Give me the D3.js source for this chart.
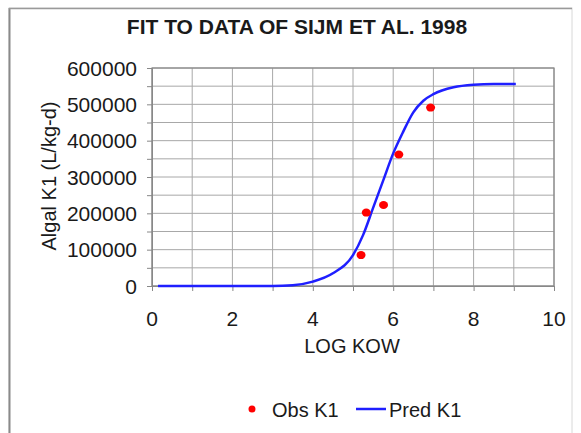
<!DOCTYPE html>
<html>
<head>
<meta charset="utf-8">
<script src="https://cdn.jsdelivr.net/npm/d3@7"></script>
<style>
  html, body { margin: 0; padding: 0; background: #fff; }
  svg { display: block; }
  text { font-family: "Liberation Sans", Arial, sans-serif; fill: #1a1a1a; }
</style>
</head>
<body>
<script>
// ---- data ----
const titleText = "FIT TO DATA OF SIJM ET AL. 1998";
const xAxisTitle = "LOG KOW";
const yAxisTitle = "Algal K1 (L/kg-d)";
const xTicks = [0, 2, 4, 6, 8, 10];
const yTicks = [0, 100000, 200000, 300000, 400000, 500000, 600000];

// observed points (Obs K1)
const obsLogKow = [5.20, 5.33, 5.76, 6.14, 6.93];
const obsK1     = [85000, 202000, 223000, 362000, 491000];

// predicted curve (Pred K1)
const predLogKow = [0.15, 1, 2, 3, 3.5, 4, 4.5, 5, 5.25, 5.5, 5.75, 6, 6.25, 6.5, 6.75, 7, 7.5, 8, 8.5, 9.05];
const predK1     = [0, 0, 0, 0, 2000, 12000, 35000, 85000, 140000, 215000, 290000, 365000, 425000, 478000, 510000, 528000, 547000, 554000, 556000, 556000];

const seriesNames = ["Obs K1", "Pred K1"];

// ---- drawing ----
const W = 581, H = 433;
const svg = d3.select("body").append("svg").attr("width", W).attr("height", H);

// outer frame
svg.append("rect").attr("x", 9).attr("y", 8).attr("width", 563).attr("height", 440)
  .attr("fill", "#fff").attr("stroke", "#d8d8d8").attr("stroke-width", 1);
svg.append("line").attr("x1", 9.5).attr("x2", 9.5).attr("y1", 8).attr("y2", H)
  .attr("stroke", "#8a8a8a").attr("stroke-width", 2);
svg.append("line").attr("x1", 9).attr("x2", 572).attr("y1", 8.5).attr("y2", 8.5)
  .attr("stroke", "#9a9a9a").attr("stroke-width", 1.5);

const plot = { left: 152, right: 554, top: 68, bottom: 286 };
const x = d3.scaleLinear().domain([0, 10]).range([plot.left, plot.right]);
const y = d3.scaleLinear().domain([0, 600000]).range([plot.bottom, plot.top]);

// gridlines
const g = svg.append("g");
g.selectAll(".vg").data(d3.range(0, 11, 1)).enter().append("line")
  .attr("x1", d => x(d)).attr("x2", d => x(d))
  .attr("y1", plot.top).attr("y2", plot.bottom)
  .attr("stroke", "#a8a8a8").attr("stroke-width", 1);
g.selectAll(".hg").data(d3.range(0, 600001, 50000)).enter().append("line")
  .attr("x1", plot.left).attr("x2", plot.right)
  .attr("y1", d => y(d)).attr("y2", d => y(d))
  .attr("stroke", "#a8a8a8").attr("stroke-width", 1);

// plot border
svg.append("rect").attr("x", plot.left).attr("y", plot.top)
  .attr("width", plot.right - plot.left).attr("height", plot.bottom - plot.top)
  .attr("fill", "none").attr("stroke", "#888").attr("stroke-width", 1.2);

// axes
const xAxis = d3.axisBottom(x).tickValues(d3.range(0, 11, 1)).tickSize(5).tickFormat("");
const yAxis = d3.axisLeft(y).tickValues(d3.range(0, 600001, 50000)).tickSize(5).tickFormat("");
const gx = svg.append("g").attr("transform", `translate(0,${plot.bottom})`).call(xAxis);
const gy = svg.append("g").attr("transform", `translate(${plot.left},0)`).call(yAxis);
[gx, gy].forEach(a => {
  a.select(".domain").attr("stroke", "#888");
  a.selectAll(".tick line").attr("stroke", "#888");
});

// tick labels
svg.selectAll(".xl").data(xTicks).enter().append("text")
  .attr("x", d => x(d)).attr("y", 326).attr("text-anchor", "middle")
  .attr("font-size", 21).text(d => d);
svg.selectAll(".yl").data(yTicks).enter().append("text")
  .attr("x", 137).attr("y", d => y(d) + 7.5).attr("text-anchor", "end")
  .attr("font-size", 21).text(d => d);

// titles
svg.append("text").attr("x", 297).attr("y", 34).attr("text-anchor", "middle")
  .attr("font-size", 21).attr("font-weight", "bold").text(titleText);
svg.append("text").attr("x", 352).attr("y", 353).attr("text-anchor", "middle")
  .attr("font-size", 20).text(xAxisTitle);
svg.append("text").attr("transform", "translate(56,176) rotate(-90)")
  .attr("text-anchor", "middle").attr("font-size", 20).text(yAxisTitle);

// predicted line
const predData = predLogKow.map((v, i) => [v, predK1[i]]);
svg.append("path").datum(predData)
  .attr("fill", "none").attr("stroke", "#1f1fff").attr("stroke-width", 2.5)
  .attr("d", d3.line().x(d => x(d[0])).y(d => y(d[1])).curve(d3.curveMonotoneX));

// observed points
const obsData = obsLogKow.map((v, i) => [v, obsK1[i]]);
svg.selectAll(".obs").data(obsData).enter().append("ellipse")
  .attr("cx", d => x(d[0])).attr("cy", d => y(d[1]))
  .attr("rx", 4.5).attr("ry", 4).attr("fill", "#ff0000");

// legend
const ly = 410;
svg.append("circle").attr("cx", 252).attr("cy", ly - 1).attr("r", 3.5).attr("fill", "#ff0000");
svg.append("text").attr("x", 272).attr("y", ly + 7).attr("font-size", 20).text(seriesNames[0]);
svg.append("line").attr("x1", 356).attr("x2", 386).attr("y1", ly - 1).attr("y2", ly - 1)
  .attr("stroke", "#1f1fff").attr("stroke-width", 2.5);
svg.append("text").attr("x", 389).attr("y", ly + 7).attr("font-size", 20).text(seriesNames[1]);
</script>
</body>
</html>
